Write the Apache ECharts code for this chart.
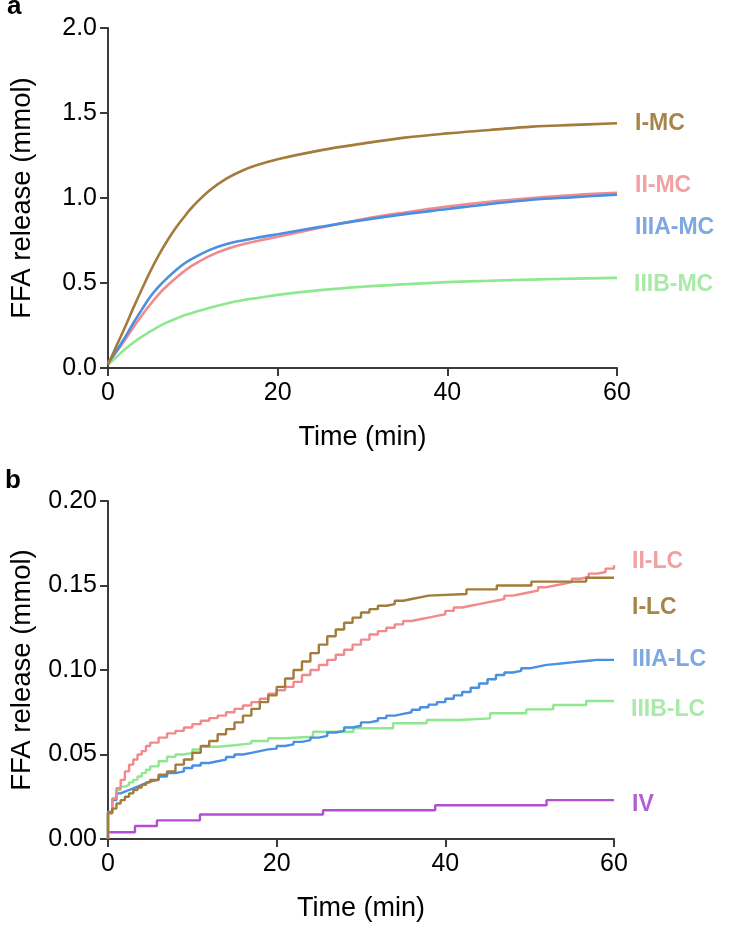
<!DOCTYPE html>
<html>
<head>
<meta charset="utf-8">
<script src="https://cdn.jsdelivr.net/npm/echarts@6/dist/echarts.min.js"></script>
<style>
html,body{margin:0;padding:0;background:#fff;}
#chart{width:742px;height:926px;}
</style>
</head>
<body>
<div id="chart"></div>
<script>
// ---------- Panel a (MC substrates) ----------
var timesA = [0,1,2,3,4,5,6,7,8,9,10,12,14,16,18,20,25,30,35,40,45,50,55,60];
var I_MC    = [0.02,0.13,0.24,0.355,0.465,0.57,0.665,0.75,0.825,0.89,0.95,1.045,1.115,1.165,1.20,1.228,1.28,1.32,1.355,1.38,1.40,1.42,1.43,1.44];
var II_MC   = [0.03,0.095,0.165,0.24,0.31,0.375,0.435,0.485,0.53,0.57,0.605,0.66,0.70,0.73,0.752,0.772,0.825,0.875,0.915,0.95,0.978,1.00,1.018,1.03];
var IIIA_MC = [0.03,0.10,0.18,0.265,0.345,0.42,0.48,0.53,0.575,0.615,0.645,0.695,0.73,0.752,0.77,0.787,0.83,0.87,0.905,0.935,0.965,0.99,1.005,1.02];
var IIIB_MC = [0.02,0.065,0.11,0.15,0.185,0.215,0.245,0.27,0.29,0.31,0.325,0.355,0.38,0.40,0.415,0.43,0.458,0.478,0.493,0.505,0.513,0.52,0.526,0.53];

// ---------- Panel b (LC substrates) ----------
var timesLC = [0,0,0.5,1,1.5,2,2.5,3,3.5,4,4.5,5,6,7,8,9,10,11,12,13,14,15,16,17,18,19,20,21,22,23,24,25,26,27,28,29,30,31,32,33,34,35,36,37,38,39,40,41,42,43,44,45,46,47,48,49,50,51,52,53,54,55,56,57,58,59,60];
var II_LC   = [0,0.015,0.024,0.030,0.035,0.040,0.044,0.047,0.050,0.052,0.055,0.057,0.060,0.0625,0.064,0.066,0.068,0.070,0.0715,0.073,0.075,0.077,0.079,0.081,0.083,0.086,0.088,0.090,0.093,0.097,0.100,0.103,0.106,0.109,0.112,0.115,0.118,0.121,0.123,0.125,0.127,0.129,0.130,0.131,0.132,0.133,0.135,0.137,0.138,0.139,0.140,0.141,0.142,0.144,0.145,0.146,0.147,0.149,0.150,0.151,0.152,0.154,0.155,0.157,0.158,0.160,0.162];
var IIIA_LC = [0,0.016,0.023,0.027,0.028,0.029,0.030,0.031,0.032,0.033,0.034,0.035,0.037,0.039,0.040,0.042,0.0435,0.045,0.046,0.047,0.0485,0.050,0.051,0.052,0.053,0.0535,0.055,0.056,0.0575,0.0585,0.060,0.061,0.063,0.064,0.066,0.067,0.069,0.070,0.0715,0.073,0.074,0.075,0.0765,0.078,0.0795,0.081,0.083,0.085,0.087,0.0895,0.092,0.0945,0.097,0.0985,0.0995,0.101,0.102,0.103,0.1035,0.104,0.1045,0.105,0.1055,0.106,0.106,0.106,0.106];
var timesI_LC = [0,0,0.5,1,1.5,2,2.5,3,3.5,4,4.5,5,6,7,8,9,10,11,12,13,14,15,16,17,18,19,20,21,22,23,24,25,26,27,28,29,30,31,32,33,34,35,36,37,38,42.5,46.1,50.2,56.7,60];
var I_LC    = [0,0.0157,0.018,0.021,0.023,0.025,0.027,0.029,0.0305,0.032,0.0335,0.035,0.038,0.040,0.044,0.047,0.051,0.055,0.058,0.062,0.065,0.069,0.073,0.077,0.081,0.085,0.090,0.095,0.100,0.105,0.110,0.115,0.120,0.124,0.128,0.131,0.134,0.136,0.138,0.139,0.141,0.142,0.143,0.144,0.145,0.1477,0.150,0.1523,0.1546,0.1546];
var timesIIIB_LC = [0,0,0.5,1,1.5,2,2.5,3,3.5,4,4.5,5,6,7,8,9,10,11,13,15,17,19,21,24.3,29.1,33.8,37.8,41.7,45.3,49.6,52.8,56.7,60];
var IIIB_LC = [0,0.016,0.024,0.029,0.031,0.032,0.0335,0.035,0.037,0.039,0.041,0.043,0.046,0.0487,0.050,0.051,0.053,0.0546,0.0555,0.0566,0.058,0.0596,0.0605,0.0635,0.0655,0.0685,0.0704,0.0714,0.0744,0.0767,0.0793,0.0817,0.0817];
var timesIV = [0,3.2,5.8,10.9,25.5,38.8,52,60];
var IV      = [0.004,0.0077,0.011,0.0145,0.017,0.020,0.023,0.023];

// ---------- Axis ticks / labels ----------
var xTicks = [0,20,40,60];
var yTicksA = [0,0.5,1.0,1.5,2.0];
var yTicksB = [0,0.05,0.10,0.15,0.20];
var panelLetters = ['a','b'];
var xTitle = 'Time (min)';
var yTitle = 'FFA release (mmol)';
var labelsA = ['I-MC','II-MC','IIIA-MC','IIIB-MC'];
var labelsB = ['II-LC','I-LC','IIIA-LC','IIIB-LC','IV'];

// colours
var C_I = '#a37b3a', C_II = '#f08a8c', C_IIIA = '#4a8fe0', C_IIIB = '#8fe88f', C_IV = '#b24fd1';
var L_I = '#a6854b', L_II = '#f2a1a3', L_IIIA = '#7ea8e2', L_IIIB = '#a9eaa9', L_IV = '#b25fd2';

function pairs(xs, ys){ var o=[]; for(var i=0;i<xs.length;i++) o.push([xs[i], ys[i]]); return o; }

var FONT = '"Liberation Sans", Arial, sans-serif';
var axisLineStyle = {color:'#3a3a3a', width:2};

function xAxisDef(gi){
  return {
    type:'value', gridIndex:gi, min:xTicks[0], max:xTicks[xTicks.length-1], interval:20,
    axisLine:{show:true, lineStyle:axisLineStyle},
    axisTick:{show:true, length:8, lineStyle:axisLineStyle},
    splitLine:{show:false},
    axisLabel:{fontSize:25, color:'#000', fontFamily:FONT, margin:13},
    name:xTitle, nameLocation:'middle', nameGap:56,
    nameTextStyle:{fontSize:27, color:'#000', fontFamily:FONT}
  };
}
function yAxisDef(gi, ticks, dec){
  return {
    type:'value', gridIndex:gi, min:ticks[0], max:ticks[ticks.length-1], interval:ticks[1]-ticks[0],
    axisLine:{show:true, lineStyle:axisLineStyle},
    axisTick:{show:true, length:8, lineStyle:axisLineStyle},
    splitLine:{show:false},
    axisLabel:{fontSize:25, color:'#000', fontFamily:FONT, margin:11,
      formatter:function(v){ return v.toFixed(dec); }},
    name:yTitle, nameLocation:'middle', nameGap:72, nameRotate:90,
    nameTextStyle:{fontSize:27.5, color:'#000', fontFamily:FONT}
  };
}

function smoothSeries(name, ys, color){
  return {name:name, type:'line', xAxisIndex:0, yAxisIndex:0, data:pairs(timesA, ys),
    smooth:0.4, showSymbol:false, symbol:'none', lineStyle:{color:color, width:2.6}, silent:true, animation:false};
}
function stepSeries(name, xs, ys, color){
  return {name:name, type:'line', xAxisIndex:1, yAxisIndex:1, data:pairs(xs, ys),
    step:'end', showSymbol:false, symbol:'none', lineStyle:{color:color, width:2.4}, silent:true, animation:false};
}

function lbl(text, x, y, color){
  return {type:'text', left:x, top:y - 11, style:{text:text, fill:color, font:'bold 23px ' + FONT}};
}

var chart = echarts.init(document.getElementById('chart'), null, {renderer:'canvas'});
chart.setOption({
  animation:false,
  backgroundColor:'#fff',
  grid:[
    {left:108, right:125, top:28, height:340},
    {left:108, right:128, top:501, height:338}
  ],
  xAxis:[xAxisDef(0), xAxisDef(1)],
  yAxis:[yAxisDef(0, yTicksA, 1), yAxisDef(1, yTicksB, 2)],
  series:[
    smoothSeries(labelsA[3], IIIB_MC, C_IIIB),
    smoothSeries(labelsA[1], II_MC, C_II),
    smoothSeries(labelsA[2], IIIA_MC, C_IIIA),
    smoothSeries(labelsA[0], I_MC, C_I),
    stepSeries(labelsB[4], timesIV, IV, C_IV),
    stepSeries(labelsB[3], timesIIIB_LC, IIIB_LC, C_IIIB),
    stepSeries(labelsB[2], timesLC, IIIA_LC, C_IIIA),
    stepSeries(labelsB[0], timesLC, II_LC, C_II),
    stepSeries(labelsB[1], timesI_LC, I_LC, C_I)
  ],
  graphic:[
    {type:'text', left:7, top:-6, style:{text:panelLetters[0], fill:'#000', font:'bold 26px ' + FONT}},
    {type:'text', left:5, top:468, style:{text:panelLetters[1], fill:'#000', font:'bold 26px ' + FONT}},
    lbl(labelsA[0], 635, 123, L_I),
    lbl(labelsA[1], 635, 185, L_II),
    lbl(labelsA[2], 635, 227, L_IIIA),
    lbl(labelsA[3], 634, 284, L_IIIB),
    lbl(labelsB[0], 632, 561, L_II),
    lbl(labelsB[1], 632, 607, L_I),
    lbl(labelsB[2], 632, 659, L_IIIA),
    lbl(labelsB[3], 631, 709, L_IIIB),
    lbl(labelsB[4], 632, 804, L_IV)
  ]
});
</script>
</body>
</html>
